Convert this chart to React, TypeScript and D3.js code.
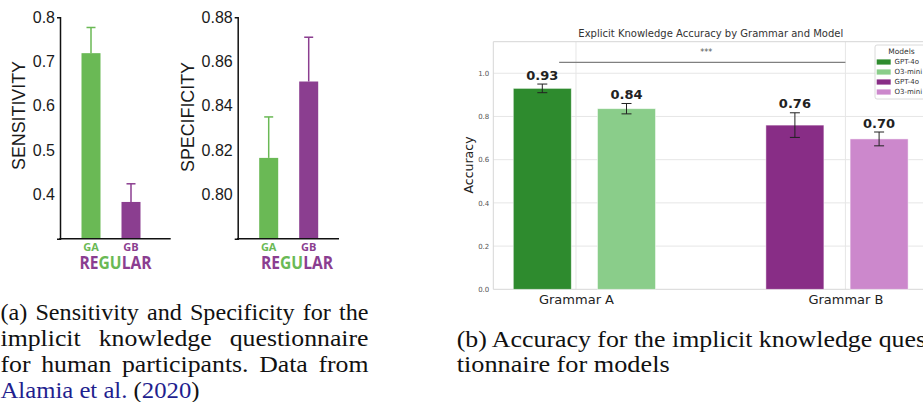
import React, { useEffect, useRef } from "react";
import * as d3 from "d3";

// ---- human participants (Alamia et al. 2020) ----
const humanGroups = ["GA", "GB"];
const sensitivity = [0.719, 0.383];
const sensitivityErr = [0.058, 0.041];
const sensitivityTicks = [0.4, 0.5, 0.6, 0.7, 0.8];
const specificity = [0.8165, 0.851];
const specificityErr = [0.0185, 0.02];
const specificityTicks = [0.8, 0.82, 0.84, 0.86, 0.88];
const regularWord = "REGULAR";
const regularGreen = [2, 3]; // letter indexes drawn in green

// ---- models ----
const grammars = ["Grammar A", "Grammar B"];
const models = ["GPT-4o", "O3-mini"];
const accuracyGrammarA = [0.93, 0.836];
const errorGrammarA = [0.02, 0.024];
const accuracyGrammarB = [0.76, 0.696];
const errorGrammarB = [0.057, 0.032];
const accuracyTicks = [0, 0.2, 0.4, 0.6, 0.8, 1.0];
const sigLevel = 1.05;
const sigLabel = "***";

const humanColors: Record<string, string> = { GA: "#6ab955", GB: "#8b3e90" };
const modelColors = [
  ["#2e8b2e", "#8acd8a"],
  ["#882d86", "#cc88cc"],
];

const W = 923;
const H = 402;

function drawHuman(svg: any, opts: any) {
  const { x0, x1, values, errs, domain, ticks, fmt, label, labelX, labelY, labelLen, regularX } = opts;
  const yTop = 17.3;
  const yBot = 238.7;
  const y = d3.scaleLinear().domain(domain).range([yBot, yTop]);
  const x = d3.scalePoint().domain(humanGroups).range([x0 + 31, x0 + 71]);
  const g = svg.append("g");
  const barW = 19;

  g.selectAll("rect.bar")
    .data(humanGroups)
    .enter()
    .append("rect")
    .attr("x", (d: string) => (x(d) as number) - barW / 2)
    .attr("y", (d: string, i: number) => y(values[i]))
    .attr("width", barW)
    .attr("height", (d: string, i: number) => yBot - y(values[i]))
    .attr("fill", (d: string) => humanColors[d]);

  // upper error bars only
  humanGroups.forEach((d, i) => {
    const cx = x(d) as number;
    const top = y(values[i] + errs[i]);
    g.append("line").attr("x1", cx).attr("x2", cx).attr("y1", y(values[i])).attr("y2", top)
      .attr("stroke", humanColors[d]).attr("stroke-width", 1.5);
    g.append("line").attr("x1", cx - 4.5).attr("x2", cx + 4.5).attr("y1", top).attr("y2", top)
      .attr("stroke", humanColors[d]).attr("stroke-width", 1.5);
  });

  const axis = g.append("g")
    .attr("transform", `translate(${x0},0)`)
    .call(d3.axisLeft(y).tickValues(ticks).tickFormat(d3.format(fmt)).tickSizeInner(0).tickSizeOuter(3).tickPadding(5));
  axis.select(".domain").attr("stroke", "#111").attr("stroke-width", 1.5);
  axis.selectAll("text")
    .style("font-family", "Liberation Sans, Arial, sans-serif")
    .style("font-size", "16px")
    .attr("fill", "#1a1a1a");

  g.append("line").attr("x1", x0 - 0.75).attr("x2", x1).attr("y1", yBot).attr("y2", yBot)
    .attr("stroke", "#111").attr("stroke-width", 1.5);

  g.selectAll("text.grp")
    .data(humanGroups)
    .enter()
    .append("text")
    .attr("x", (d: string) => x(d) as number)
    .attr("y", 250.5)
    .attr("text-anchor", "middle")
    .style("font-family", "Open Sans, sans-serif")
    .style("font-weight", "bold")
    .style("font-size", "11px")
    .attr("fill", (d: string) => humanColors[d])
    .text((d: string) => d);

  const reg = g.append("text")
    .attr("x", regularX)
    .attr("y", 268.8)
    .attr("text-anchor", "middle")
    .attr("textLength", 72)
    .attr("lengthAdjust", "spacingAndGlyphs")
    .style("font-family", "Open Sans, sans-serif")
    .style("font-weight", "bold")
    .style("font-size", "18px");
  regularWord.split("").forEach((ch, i) => {
    reg.append("tspan")
      .attr("fill", regularGreen.includes(i) ? humanColors.GA : humanColors.GB)
      .text(ch);
  });

  g.append("text")
    .attr("transform", `translate(${labelX},${labelY}) rotate(-90)`)
    .attr("text-anchor", "middle")
    .attr("dominant-baseline", "central")
    .attr("textLength", labelLen)
    .attr("lengthAdjust", "spacingAndGlyphs")
    .style("font-family", "Liberation Sans, Arial, sans-serif")
    .style("font-size", "18px")
    .attr("fill", "#1a1a1a")
    .text(label);
}

function drawModels(svg: any) {
  const left = 493.3;
  const right = 928;
  const top = 41.7;
  const bottom = 289.3;
  const y = d3.scaleLinear().domain([0, 1.146]).range([bottom, top]);
  const x = d3.scaleLinear().domain([0, 4]).range([542.3, 879.1]);
  const slots = [[0, 1], [3, 4]];
  const tickSlots = [0.4, 3.6];
  const barW = 58;
  const font = "DejaVu Sans, sans-serif";
  const g = svg.append("g");

  // grid
  g.selectAll("line.hgrid")
    .data(accuracyTicks.filter((t) => t > 0))
    .enter()
    .append("line")
    .attr("x1", left).attr("x2", right)
    .attr("y1", (d: number) => y(d)).attr("y2", (d: number) => y(d))
    .attr("stroke", "#e6e6e6").attr("stroke-width", 1);
  g.selectAll("line.vgrid")
    .data(tickSlots)
    .enter()
    .append("line")
    .attr("x1", (d: number) => x(d)).attr("x2", (d: number) => x(d))
    .attr("y1", top).attr("y2", bottom)
    .attr("stroke", "#e6e6e6").attr("stroke-width", 1);

  // spines
  g.append("path")
    .attr("d", `M${right},${top}H${left}V${bottom}H${right}`)
    .attr("fill", "none").attr("stroke", "#d6d6d6").attr("stroke-width", 1);

  const series = [
    { vals: accuracyGrammarA, errs: errorGrammarA },
    { vals: accuracyGrammarB, errs: errorGrammarB },
  ];

  series.forEach((s, gi) => {
    s.vals.forEach((v, mi) => {
      const cx = x(slots[gi][mi]);
      g.append("rect")
        .attr("x", cx - barW / 2).attr("y", y(v))
        .attr("width", barW).attr("height", bottom - y(v))
        .attr("fill", modelColors[gi][mi])
        .attr("stroke", "#ffffff").attr("stroke-opacity", 0.6).attr("stroke-width", 0.8);
      const e = s.errs[mi];
      const y1 = y(v + e);
      const y2 = y(v - e);
      g.append("line").attr("x1", cx).attr("x2", cx).attr("y1", y1).attr("y2", y2)
        .attr("stroke", "#222").attr("stroke-width", 1);
      [y1, y2].forEach((yy) => {
        g.append("line").attr("x1", cx - 5).attr("x2", cx + 5).attr("y1", yy).attr("y2", yy)
          .attr("stroke", "#222").attr("stroke-width", 1);
      });
      g.append("text")
        .attr("x", cx).attr("y", y1 - 4.5)
        .attr("text-anchor", "middle")
        .style("font-family", font).style("font-weight", "bold").style("font-size", "13px")
        .attr("fill", "#222")
        .text(d3.format(".2f")(v));
    });
  });

  // significance bracket
  const sy = y(sigLevel);
  g.append("line").attr("x1", x(0.2)).attr("x2", x(3.6)).attr("y1", sy).attr("y2", sy)
    .attr("stroke", "#808080").attr("stroke-width", 1.3);
  g.append("text")
    .attr("x", (x(0.2) + x(3.6)) / 2 + 4).attr("y", sy - 7)
    .attr("text-anchor", "middle")
    .style("font-family", font).style("font-size", "8px")
    .attr("fill", "#555")
    .text(sigLabel);

  // axes
  const ya = g.append("g").attr("transform", `translate(${left},0)`)
    .call(d3.axisLeft(y).tickValues(accuracyTicks).tickFormat(d3.format(".1f")).tickSize(0).tickPadding(4));
  ya.select(".domain").remove();
  ya.selectAll("text").style("font-family", font).style("font-size", "7px").attr("fill", "#555");

  const xa = g.append("g").attr("transform", `translate(0,${bottom})`)
    .call(d3.axisBottom(x).tickValues(tickSlots).tickFormat((d: any, i: number) => grammars[i]).tickSize(0).tickPadding(5.5));
  xa.select(".domain").remove();
  xa.selectAll("text").style("font-family", font).style("font-size", "13px").attr("fill", "#222");

  g.append("text")
    .attr("transform", `translate(468,165) rotate(-90)`)
    .attr("text-anchor", "middle")
    .attr("dominant-baseline", "central")
    .style("font-family", font).style("font-size", "12.5px")
    .attr("fill", "#222")
    .text("Accuracy");

  g.append("text")
    .attr("x", 710.8).attr("y", 36.7)
    .attr("text-anchor", "middle")
    .style("font-family", font).style("font-size", "10px")
    .attr("fill", "#333")
    .text("Explicit Knowledge Accuracy by Grammar and Model");

  // legend
  const legendItems = grammars.flatMap((gr, gi) => models.map((m, mi) => ({ label: m, color: modelColors[gi][mi] })));
  const lg = g.append("g");
  lg.append("rect").attr("x", 875).attr("y", 45).attr("width", 53).attr("height", 54).attr("rx", 2)
    .attr("fill", "#fff").attr("fill-opacity", 0.85).attr("stroke", "#d0d0d0").attr("stroke-width", 0.8);
  lg.append("text").attr("x", 901.5).attr("y", 53.5).attr("text-anchor", "middle")
    .style("font-family", font).style("font-size", "7.5px").attr("fill", "#333").text("Models");
  legendItems.forEach((it, i) => {
    const cy = 62 + i * 10;
    lg.append("rect").attr("x", 876.7).attr("y", cy - 2.6).attr("width", 14).attr("height", 5.2).attr("fill", it.color);
    lg.append("text").attr("x", 894.5).attr("y", cy).attr("dy", "0.35em")
      .style("font-family", font).style("font-size", "7px").attr("fill", "#333").text(it.label);
  });
}

function drawCaptions(svg: any) {
  const g = svg.append("g")
    .style("font-family", "Liberation Serif, Times New Roman, serif")
    .style("font-size", "23px")
    .attr("fill", "#111");

  const line = (txt: string, x: number, y: number, width: number, justify: boolean) => {
    const t = g.append("text").attr("x", x).attr("y", y).text(txt);
    if (justify) {
      // widen glyphs a little (reference face is wider), then spread word gaps to fill the column
      const len = (t.node() as SVGTextElement).getComputedTextLength();
      const spaces = (txt.match(/ /g) || []).length;
      const k = Math.min(1.12, width / (len + spaces * 2));
      t.style("word-spacing", `${(width / k - len) / spaces}px`);
    }
    t.attr("textLength", width).attr("lengthAdjust", "spacingAndGlyphs");
    return t;
  };

  line("(a) Sensitivity and Specificity for the", 0.5, 319.5, 368, true);
  line("implicit knowledge questionnaire", 0.5, 345.5, 368, true);
  line("for human participants. Data from", 0.5, 371.5, 368, true);
  const cite = g.append("text").attr("x", 0.5).attr("y", 397.5)
    .attr("textLength", 199).attr("lengthAdjust", "spacingAndGlyphs");
  cite.append("tspan").attr("fill", "#1f1f8f").text("Alamia et al. ");
  cite.append("tspan").attr("fill", "#111").text("(");
  cite.append("tspan").attr("fill", "#1f1f8f").text("2020");
  cite.append("tspan").attr("fill", "#111").text(")");

  line("(b) Accuracy for the implicit knowledge ques-", 456.7, 346.5, 478, false);
  line("tionnaire for models", 456.7, 371.7, 213, false);
}

export default function App() {
  const ref = useRef<SVGSVGElement>(null);

  useEffect(() => {
    const svg = d3.select(ref.current);
    svg.selectAll("*").remove();

    drawHuman(svg, {
      x0: 60, x1: 170.7, values: sensitivity, errs: sensitivityErr, domain: [0.3, 0.8],
      ticks: sensitivityTicks, fmt: ".1f", label: "SENSITIVITY", labelX: 19, labelY: 115.5,
      labelLen: 109, regularX: 115.5,
    });
    drawHuman(svg, {
      x0: 237.7, x1: 339, values: specificity, errs: specificityErr, domain: [0.78, 0.88],
      ticks: specificityTicks, fmt: ".2f", label: "SPECIFICITY", labelX: 188, labelY: 117,
      labelLen: 110, regularX: 297,
    });
    drawModels(svg);
    drawCaptions(svg);
  }, []);

  return (
    <svg
      ref={ref}
      width={W}
      height={H}
      style={{ position: "absolute", left: 0, top: 0, background: "#fff", display: "block" }}
    />
  );
}
